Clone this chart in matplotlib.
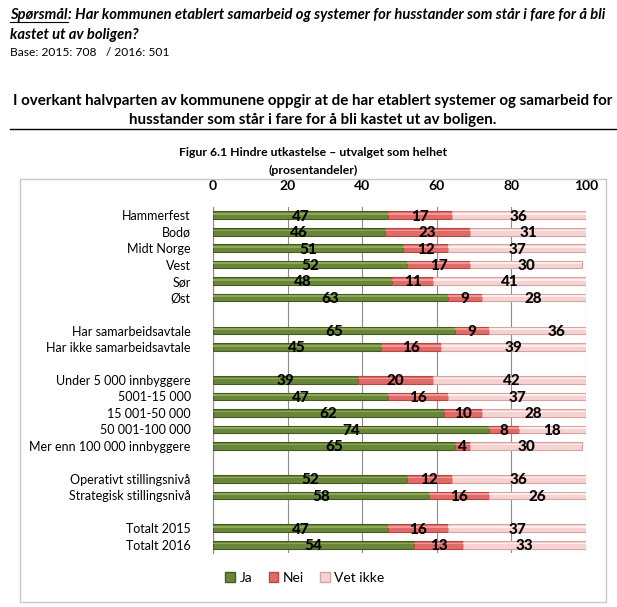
import numpy as np
import matplotlib.pyplot as plt
from matplotlib.patches import Patch, Rectangle
from matplotlib.lines import Line2D

plt.rcParams['font.family'] = ['Lato', 'DejaVu Sans']

# rows top -> bottom, '' marks a blank spacer row
categories = ['Hammerfest', 'Bodø', 'Midt Norge', 'Vest', 'Sør', 'Øst', '',
              'Har samarbeidsavtale', 'Har ikke samarbeidsavtale', '',
              'Under 5 000 innbyggere', '5001-15 000', '15 001-50 000',
              '50 001-100 000', 'Mer enn 100 000 innbyggere', '',
              'Operativt stillingsnivå', 'Strategisk stillingsnivå', '',
              'Totalt 2015', 'Totalt 2016']
ja = [47, 46, 51, 52, 48, 63, None, 65, 45, None, 39, 47, 62, 74, 65, None, 52, 58, None, 47, 54]
nei = [17, 23, 12, 17, 11, 9, None, 9, 16, None, 20, 16, 10, 8, 4, None, 12, 16, None, 16, 13]
vet_ikke = [36, 31, 37, 30, 41, 28, None, 36, 39, None, 42, 37, 28, 18, 30, None, 36, 26, None, 37, 33]
series_names = ['Ja', 'Nei', 'Vet ikke']
ticks = [0, 20, 40, 60, 80, 100]

face = ['#69863a', '#e06a68', '#f6d3d3']
edge = ['#465c1f', '#b84744', '#d9a3a2']
shine = ['#8ea85a', '#f09a98', '#fdeeee']

W, H = 617, 607
fig = plt.figure(figsize=(W / 100, H / 100), dpi=100)

def fy(py):
    return 1 - py / H

def fit(t, width_px):
    # shrink/grow a text so it spans width_px pixels
    fig.canvas.draw()
    w = t.get_window_extent().width
    t.set_fontsize(t.get_fontsize() * width_px / w)

# header texts
q_kw = dict(fontsize=10.6, fontweight='bold', style='italic', va='center', ha='left')
q_full = fig.text(10 / W, fy(15), 'Spørsmål: Har kommunen etablert samarbeid og systemer for husstander som står i fare for å bli',
                  **q_kw)
fit(q_full, 594)
q_kw['fontsize'] = q_full.get_fontsize()
q_full.remove()
t1 = fig.text(10 / W, fy(15), 'Spørsmål', **q_kw)
fig.canvas.draw()
x_end = t1.get_window_extent().x1 / W
fig.add_artist(Line2D([10 / W, x_end], [fy(22), fy(22)], color='black', lw=0.8))
fig.text(x_end, fy(15), ': Har kommunen etablert samarbeid og systemer for husstander som står i fare for å bli',
         **q_kw)
fig.text(10 / W, fy(35), 'kastet ut av boligen?', **q_kw)
base = fig.text(10 / W, fy(53), 'Base: 2015: 708   / 2016: 501', fontsize=8.6, va='center', ha='left')
fit(base, 158)

title1 = fig.text(313 / W, fy(101), 'I overkant halvparten av kommunene oppgir at de har etablert systemer og samarbeid for',
                  fontsize=10.4, fontweight='bold', va='center', ha='center')
fit(title1, 597)
fig.text(313 / W, fy(120), 'husstander som står i fare for å bli kastet ut av boligen.',
         fontsize=title1.get_fontsize(), fontweight='bold', va='center', ha='center')
fig.add_artist(Line2D([10 / W, 1.0], [fy(129), fy(129)], color='black', lw=1.0))

cap = fig.text(313 / W, fy(153), 'Figur 6.1 Hindre utkastelse \u2013 utvalget som helhet', fontsize=9,
               fontweight='bold', va='center', ha='center')
fit(cap, 270)
fig.text(313 / W, fy(170), '(prosentandeler)', fontsize=cap.get_fontsize(), fontweight='bold',
         va='center', ha='center')

# chart area frame
fig.add_artist(Rectangle((20 / W, fy(602)), 586 / W, 423 / H, transform=fig.transFigure,
                         fill=False, edgecolor='#c8c8c8', lw=1.0))

ax = fig.add_axes([213 / W, fy(553), 373 / W, 346 / H])

y = np.arange(len(categories))
rows = [i for i, c in enumerate(categories) if c]
bar_h = 0.46

for k, vals in enumerate([ja, nei, vet_ikke]):
    for i in rows:
        left = sum(s[i] for s in [ja, nei, vet_ikke][:k])
        v = vals[i]
        ax.barh(y[i], v, left=left, height=bar_h, color=face[k], edgecolor=edge[k], lw=0.8, zorder=3)
        ax.barh(y[i] - bar_h * 0.18, v, left=left, height=bar_h * 0.22, color=shine[k], lw=0, zorder=3.5)
        ax.text(left + v / 2, y[i] + 0.08, str(v), ha='center', va='center', fontsize=11,
                fontweight='black', color='black', zorder=5, clip_on=False)

ax.set_xlim(0, 100)
ax.set_ylim(len(categories) - 0.5, -0.5)
ax.set_xticks(ticks)
ax.set_xticklabels([str(t) for t in ticks], fontweight='bold', fontsize=10)
ax.xaxis.tick_top()
ax.tick_params(axis='x', length=0, pad=11)
ax.set_yticks(y)
ax.set_yticklabels(categories, fontsize=9)
ax.tick_params(axis='y', length=0, pad=16)
ax.grid(axis='x', color='#8c8c8c', lw=0.8, zorder=0)
for s in ['top', 'right', 'bottom']:
    ax.spines[s].set_visible(False)
ax.spines['left'].set_color('#8c8c8c')
ax.spines['left'].set_linewidth(0.8)

handles = [Patch(facecolor=face[k], edgecolor=edge[k], label=series_names[k]) for k in range(3)]
fig.legend(handles=handles, loc='center', bbox_to_anchor=(305 / W, fy(578)), ncol=3, frameon=False,
           fontsize=10, handlelength=0.7, handleheight=0.7, handletextpad=0.3, columnspacing=1.2)

fig.savefig('out.png', dpi=100)
